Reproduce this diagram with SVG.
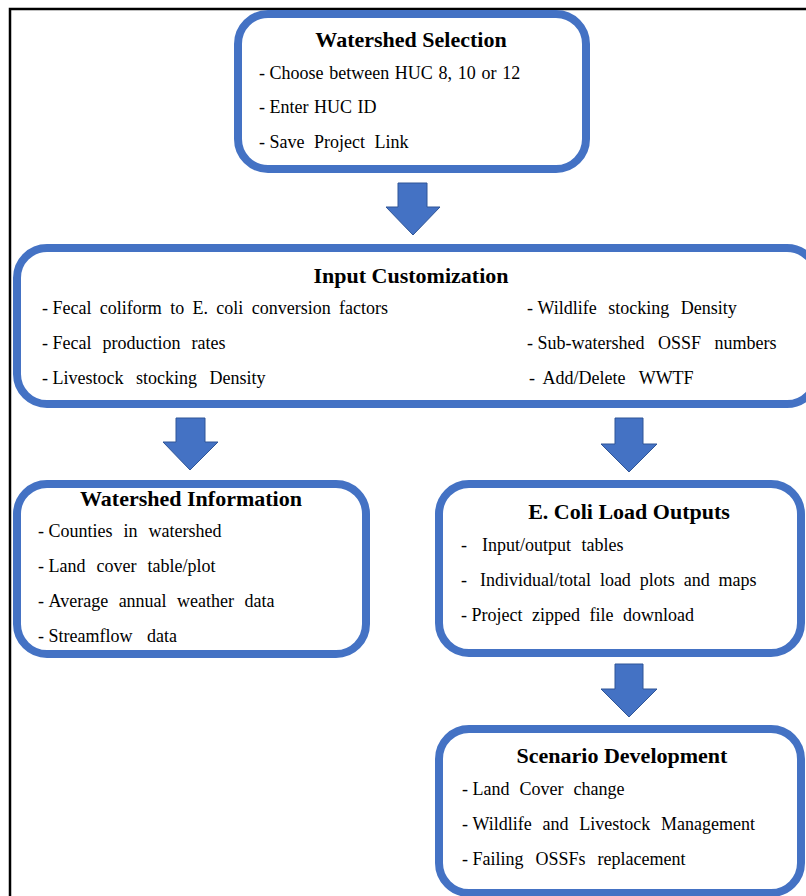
<svg xmlns="http://www.w3.org/2000/svg" width="806" height="896" viewBox="0 0 806 896">
<style>
.box{fill:#fff;stroke:#4472C4;stroke-width:8}
.t{font-family:"Liberation Serif","Times New Roman",serif;font-size:22px;font-weight:bold;fill:#000;text-anchor:middle}
.i{font-family:"Liberation Serif","Times New Roman",serif;font-size:18px;fill:#000}
.arr{fill:#4472C4;stroke:#2F5597;stroke-width:1}
</style>
<rect x="0" y="0" width="806" height="896" fill="#fff"/>
<rect x="10" y="9" width="820" height="900" fill="none" stroke="#000" stroke-width="2.5"/>
<g id="connectors">
<polygon class="arr" points="398,183 427,183 427,207 440,207 413,235 386,207 398,207"/>
<polygon class="arr" points="176,418 205,418 205,442 218,442 190,470 163,442 176,442"/>
<polygon class="arr" points="615,418 643,418 643,444 657,444 629,472 601,444 615,444"/>
<polygon class="arr" points="615,664 643,664 643,689 657,689 629,717 601,689 615,689"/>
</g>
<g id="watershed-selection">
<rect class="box" x="238" y="14" width="348" height="155" rx="30"/>
<text class="t" x="411" y="47">Watershed Selection</text>
<text class="i" x="259" y="79"><tspan>- </tspan><tspan word-spacing="1.2">Choose between HUC 8, 10 or 12</tspan></text>
<text class="i" x="259" y="113"><tspan>- </tspan><tspan word-spacing="1">Enter HUC ID</tspan></text>
<text class="i" x="259" y="148"><tspan>- </tspan><tspan word-spacing="5">Save Project Link</tspan></text>
</g>
<g id="input-customization">
<rect class="box" x="17" y="248" width="800" height="156" rx="30"/>
<text class="t" x="411" y="283">Input Customization</text>
<text class="i" x="42" y="314"><tspan>- </tspan><tspan word-spacing="3.85">Fecal coliform to E. coli conversion factors</tspan></text>
<text class="i" x="42" y="349"><tspan>- </tspan><tspan word-spacing="6.5">Fecal production rates</tspan></text>
<text class="i" x="42" y="384"><tspan>- </tspan><tspan word-spacing="8">Livestock stocking Density</tspan></text>
<text class="i" x="527" y="314"><tspan>- </tspan><tspan word-spacing="7">Wildlife stocking Density</tspan></text>
<text class="i" x="527" y="349"><tspan>- </tspan><tspan word-spacing="9">Sub-watershed OSSF numbers</tspan></text>
<text class="i" x="529" y="384"><tspan word-spacing="3">- </tspan><tspan word-spacing="9">Add/Delete WWTF</tspan></text>
</g>
<g id="watershed-information">
<rect class="box" x="17" y="484" width="349" height="170" rx="30"/>
<text class="t" x="191" y="506">Watershed Information</text>
<text class="i" x="38" y="537"><tspan>- </tspan><tspan word-spacing="6.5">Counties in watershed</tspan></text>
<text class="i" x="38" y="572"><tspan>- </tspan><tspan word-spacing="6.5">Land cover table/plot</tspan></text>
<text class="i" x="38" y="607"><tspan>- </tspan><tspan word-spacing="6">Average annual weather data</tspan></text>
<text class="i" x="38" y="642"><tspan>- </tspan><tspan word-spacing="10">Streamflow data</tspan></text>
</g>
<g id="ecoli-load-outputs">
<rect class="box" x="439" y="484" width="362" height="169" rx="30"/>
<text class="t" x="629" y="519">E. Coli Load Outputs</text>
<text class="i" x="461" y="551" xml:space="preserve"><tspan word-spacing="3">-  </tspan><tspan word-spacing="6">Input/output tables</tspan></text>
<text class="i" x="461" y="586" xml:space="preserve"><tspan word-spacing="2">-  </tspan><tspan word-spacing="4.4">Individual/total load plots and maps</tspan></text>
<text class="i" x="461" y="621"><tspan>- </tspan><tspan word-spacing="5">Project zipped file download</tspan></text>
</g>
<g id="scenario-development">
<rect class="box" x="439" y="729" width="362" height="164" rx="30"/>
<text class="t" x="622" y="763">Scenario Development</text>
<text class="i" x="462" y="795"><tspan>- </tspan><tspan word-spacing="5.5">Land Cover change</tspan></text>
<text class="i" x="462" y="830"><tspan>- </tspan><tspan word-spacing="6.25">Wildlife and Livestock Management</tspan></text>
<text class="i" x="462" y="865"><tspan>- </tspan><tspan word-spacing="7.5">Failing OSSFs replacement</tspan></text>
</g>
</svg>
